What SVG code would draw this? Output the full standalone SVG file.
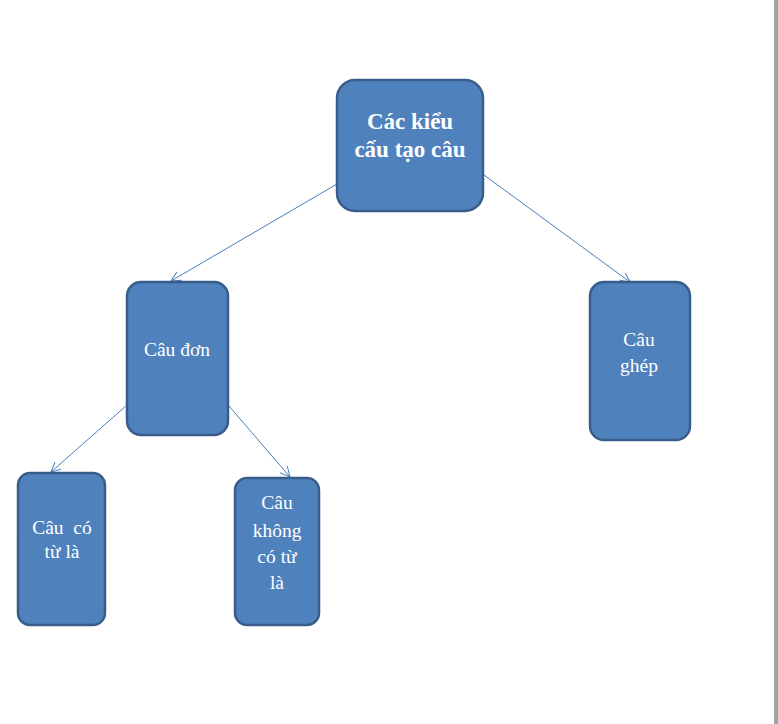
<svg xmlns="http://www.w3.org/2000/svg" width="778" height="724" viewBox="0 0 778 724">
<style>
.n{fill:#4F81BD;stroke:#385D8A;stroke-width:2.5}
.t{fill:#fff;font-family:"Liberation Serif","DejaVu Serif",serif;font-size:19.5px;text-anchor:middle}
.b{font-weight:bold;font-size:23px}
.c{stroke:#4A7EBB;stroke-width:1;fill:none;marker-end:url(#a)}
</style>
<defs>
<marker id="a" markerWidth="12" markerHeight="10" refX="10" refY="5" orient="auto" markerUnits="userSpaceOnUse">
<path d="M0,0 L10,5 L0,10" fill="none" stroke="#4A7EBB" stroke-width="1"/>
</marker>
</defs>
<rect x="0" y="0" width="778" height="724" fill="#fff"/>
<rect x="774" y="0" width="4" height="724" fill="#9fa3a6"/>
<g id="connectors">
<line class="c" x1="337" y1="184" x2="171" y2="281"/>
<line class="c" x1="484" y1="175" x2="630" y2="282"/>
<line class="c" x1="127" y1="405" x2="51" y2="472"/>
<line class="c" x1="229" y1="406" x2="290" y2="477"/>
</g>
<g id="root">
<rect class="n" x="337" y="80" width="146" height="131" rx="18"/>
<text class="t b" x="410" y="129">Các kiểu</text>
<text class="t b" x="410" y="157">cấu tạo câu</text>
</g>
<g id="cau-don">
<rect class="n" x="127" y="282" width="101" height="153" rx="14"/>
<text class="t" x="177" y="356">Câu đơn</text>
</g>
<g id="cau-ghep">
<rect class="n" x="590" y="282" width="100" height="158" rx="14"/>
<text class="t" x="639" y="346">Câu</text>
<text class="t" x="639" y="372">ghép</text>
</g>
<g id="cau-co-tu-la">
<rect class="n" x="18" y="473" width="87" height="152" rx="12"/>
<text class="t" x="62" y="534" xml:space="preserve">Câu  có</text>
<text class="t" x="62" y="558">từ là</text>
</g>
<g id="cau-khong-co-tu-la">
<rect class="n" x="235" y="478" width="84" height="147" rx="12"/>
<text class="t" x="277" y="509">Câu</text>
<text class="t" x="277" y="537">không</text>
<text class="t" x="277" y="563">có từ</text>
<text class="t" x="277" y="589">là</text>
</g>
</svg>
